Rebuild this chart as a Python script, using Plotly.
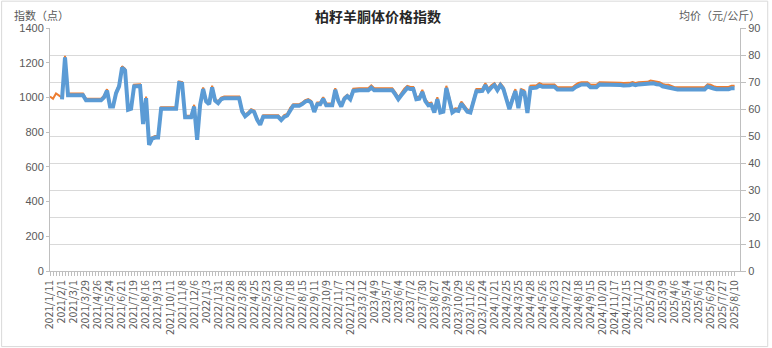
import pandas as pd
import plotly.graph_objects as go

tick_labels = [
    "2021/1/11", "2021/2/1", "2021/3/1", "2021/3/29", "2021/4/26", "2021/5/24", "2021/6/21",
    "2021/7/19", "2021/8/16", "2021/9/13", "2021/10/11", "2021/11/8", "2021/12/6", "2022/1/3",
    "2022/1/31", "2022/2/28", "2022/3/28", "2022/4/25", "2022/5/23", "2022/6/20", "2022/7/18",
    "2022/8/15", "2022/9/11", "2022/10/9", "2022/11/7", "2022/12/12", "2023/3/12", "2023/4/9",
    "2023/5/7", "2023/6/4", "2023/7/2", "2023/7/30", "2023/8/27", "2023/9/24", "2023/10/29",
    "2023/11/26", "2023/12/24", "2024/1/21", "2024/2/25", "2024/3/25", "2024/4/28", "2024/5/26",
    "2024/6/23", "2024/7/22", "2024/8/18", "2024/9/15", "2024/10/20", "2024/11/17", "2024/12/15",
    "2025/1/12", "2025/2/9", "2025/3/9", "2025/4/6", "2025/5/4", "2025/6/1", "2025/6/29",
    "2025/7/27", "2025/8/10",
]

index_values = [
    1005, 992, 1023, 1009, 999, 1240, 1022, 1022, 1022, 1022,
    1022, 1022, 993, 993, 993, 993, 993, 993, 1010, 1048,
    957, 957, 1034, 1073, 1180, 1165, 938, 944, 1073, 1075,
    1075, 855, 1005, 736, 771, 778, 778, 944, 944, 944,
    944, 944, 944, 1092, 1088, 894, 894, 894, 957, 765,
    967, 1057, 986, 971, 1067, 990, 977, 999, 1005, 1005,
    1005, 1005, 1005, 1005, 928, 900, 915, 932, 925, 880,
    852, 898, 898, 898, 898, 898, 898, 878, 898, 905,
    940, 961, 961, 961, 970, 985, 990, 980, 925, 971,
    971, 1001, 965, 965, 965, 1053, 990, 957, 1000, 1015,
    1001, 1050, 1053, 1053, 1053, 1053, 1053, 1069, 1053, 1053,
    1053, 1053, 1053, 1053, 1053, 1030, 1001, 1025, 1050, 1067,
    1060, 1060, 1001, 1005, 1044, 990, 967, 970, 925, 1001,
    925, 930, 1067, 1000, 925, 938, 935, 976, 950, 930,
    925, 990, 1048, 1048, 1050, 1082, 1050, 1070, 1082, 1055,
    1082, 1060, 1000, 944, 1000, 1048, 950, 1048, 1040, 922,
    1067, 1067, 1070, 1082, 1075, 1075, 1075, 1075, 1075, 1059,
    1059, 1059, 1059, 1059, 1059, 1073, 1083, 1088, 1088, 1088,
    1073, 1073, 1073, 1088, 1088, 1088, 1088, 1088, 1088, 1086,
    1085, 1083, 1082, 1084, 1088, 1084, 1088, 1090, 1090, 1090,
    1097, 1095, 1090, 1088, 1078, 1073, 1073, 1065, 1059, 1059,
    1059, 1059, 1059, 1059, 1059, 1059, 1059, 1059, 1059, 1076,
    1073, 1065, 1060, 1060, 1060, 1060, 1060, 1067, 1067,
]

price_values = [
    None, None, None, None, 63.6, 79.1, 65.1, 65.1, 65.1, 65.1,
    65.1, 65.1, 63.2, 63.2, 63.2, 63.2, 63.2, 63.2, 64.3, 66.8,
    60.9, 60.9, 65.9, 68.4, 75.3, 74.3, 59.7, 60.1, 68.4, 68.5,
    68.5, 54.4, 64.0, 46.7, 49.0, 49.4, 49.4, 60.1, 60.1, 60.1,
    60.1, 60.1, 60.1, 69.6, 69.4, 56.9, 56.9, 56.9, 60.9, 48.6,
    61.6, 67.4, 62.8, 61.8, 68.0, 63.1, 62.2, 63.6, 64.0, 64.0,
    64.0, 64.0, 64.0, 64.0, 59.1, 57.3, 58.2, 59.3, 58.9, 56.0,
    54.2, 57.1, 57.1, 57.1, 57.1, 57.1, 57.1, 55.9, 57.1, 57.6,
    59.8, 61.2, 61.2, 61.2, 61.8, 62.7, 63.1, 62.4, 58.9, 61.8,
    61.8, 63.8, 61.4, 61.4, 61.4, 67.1, 63.1, 60.9, 63.7, 64.7,
    63.6, 66.7, 66.9, 66.9, 66.9, 66.9, 66.9, 67.9, 66.9, 66.9,
    66.9, 66.9, 66.9, 66.9, 66.9, 65.4, 63.6, 65.1, 66.7, 67.8,
    67.4, 67.4, 63.6, 63.8, 66.3, 62.9, 61.4, 61.6, 58.7, 63.6,
    58.7, 59.0, 67.8, 63.5, 58.7, 59.5, 59.3, 62.0, 60.3, 59.0,
    58.7, 62.9, 66.6, 66.6, 66.7, 68.8, 66.7, 68.0, 68.8, 67.0,
    68.8, 67.4, 63.5, 59.9, 63.5, 66.6, 60.3, 66.6, 66.1, 58.5,
    67.7, 67.7, 67.9, 68.7, 68.2, 68.2, 68.2, 68.2, 68.2, 67.2,
    67.2, 67.2, 67.2, 67.2, 67.2, 68.1, 68.7, 69.1, 69.1, 69.1,
    68.1, 68.1, 68.1, 69.1, 69.1, 69.1, 69.1, 69.1, 69.1, 68.9,
    68.9, 68.7, 68.7, 68.8, 69.1, 68.8, 69.1, 69.2, 69.2, 69.2,
    69.6, 69.5, 69.2, 69.1, 68.4, 68.1, 68.1, 67.6, 67.2, 67.2,
    67.2, 67.2, 67.2, 67.2, 67.2, 67.2, 67.2, 67.2, 67.2, 68.3,
    68.1, 67.6, 67.3, 67.3, 67.3, 67.3, 67.3, 67.7, 67.7,
]

# Category dates: each labelled date, with three weekly points in between
def fmt(d):
    return f"{d.year}/{d.month}/{d.day}"

label_dates = [pd.Timestamp(s.replace("/", "-")) for s in tick_labels]
categories = []
for a, b in zip(label_dates[:-1], label_dates[1:]):
    step = (b - a) / 4
    for k in range(4):
        categories.append(fmt((a + step * k).normalize()))
categories.append(fmt(label_dates[-1]))

ticktext = [c if c in tick_labels else "" for c in categories]

GRID = "#d9d9d9"
TXT = "#595959"
FONT = "Noto Sans CJK SC"

fig = go.Figure()
fig.add_trace(go.Scatter(
    x=categories, y=index_values, mode="lines", name="指数",
    line=dict(color="#ed7d31", width=2), yaxis="y",
))
fig.add_trace(go.Scatter(
    x=categories, y=price_values, mode="lines", name="均价",
    line=dict(color="#5b9bd5", width=4), yaxis="y2",
))

L, R, T, B = 50, 30.3, 28.3, 77
PW, PH = 772 - L - R, 348 - T - B

fig.update_layout(
    width=772, height=348,
    margin=dict(l=L, r=R, t=T, b=B, pad=0),
    paper_bgcolor="white", plot_bgcolor="white",
    showlegend=False,
    font=dict(family=FONT, size=11, color=TXT),
    xaxis=dict(
        type="category", categoryorder="array", categoryarray=categories,
        range=[0, 229.8],
        tickmode="array", tickvals=categories, ticktext=ticktext,
        tickangle=-90, ticks="outside", ticklen=4, tickcolor="#bfbfbf",
        showline=True, linecolor="#bfbfbf", showgrid=False, zeroline=False,
        tickfont=dict(family="Noto Sans CJK SC", size=10.5, color=TXT),
    ),
    yaxis=dict(
        range=[0, 1400], dtick=200, showgrid=False, zeroline=False,
        showline=True, linecolor="#bfbfbf", ticks="outside", ticklen=3,
        tickcolor="#bfbfbf", tickfont=dict(family="Liberation Sans", size=11, color=TXT),
    ),
    yaxis2=dict(
        range=[0, 90], dtick=10, overlaying="y", side="right",
        showgrid=True, gridcolor=GRID, gridwidth=1, zeroline=False,
        showline=True, linecolor="#bfbfbf", ticks="outside", ticklen=5,
        tickcolor="#bfbfbf", tickfont=dict(family="Liberation Sans", size=11, color=TXT),
    ),
    title=dict(
        text="<b>柏籽羊胴体价格指数</b>", x=378 / 772, xanchor="center",
        y=1 - 17 / 348, yanchor="middle", xref="container", yref="container",
        font=dict(family=FONT, size=14, color="#262626"),
    ),
    annotations=[
        dict(text="指数（点）", xref="paper", yref="paper",
             x=(12 - L) / PW, y=(271 - 15) / PH, xanchor="left", yanchor="middle",
             showarrow=False, font=dict(family=FONT, size=11, color=TXT)),
        dict(text="均价（元/公斤）", xref="paper", yref="paper",
             x=(764 - L) / PW, y=(271 - 15.5) / PH, xanchor="right", yanchor="middle",
             showarrow=False, font=dict(family=FONT, size=11, color=TXT)),
    ],
    shapes=[
        dict(type="rect", xref="paper", yref="paper",
             x0=(1.5 - L) / PW, x1=(769.5 - L) / PW,
             y0=(271 - 346.5) / PH, y1=(271 - 1.5) / PH,
             line=dict(color="#d9d9d9", width=1), fillcolor="rgba(0,0,0,0)", layer="below"),
    ],
)

fig.write_html("out.html")
